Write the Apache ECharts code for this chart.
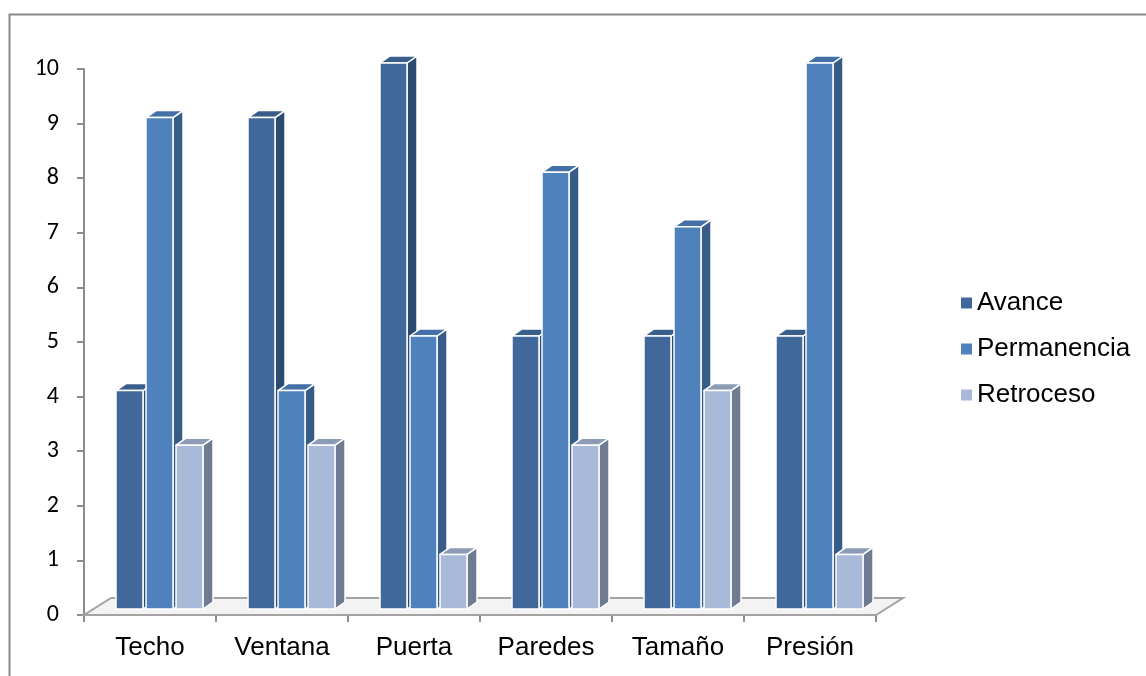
<!DOCTYPE html>
<html>
<head>
<meta charset="utf-8">
<script src="https://cdn.jsdelivr.net/npm/echarts@6/dist/echarts.min.js"></script>
<style>
  html, body { margin: 0; padding: 0; background: #ffffff; }
  #chart { width: 1146px; height: 676px; }
</style>
</head>
<body>
<div id="chart"></div>
<script>
// Categories and values per series
const categories = ['Techo', 'Ventana', 'Puerta', 'Paredes', 'Tamaño', 'Presión'];
const avance = [4, 9, 10, 5, 5, 5];
const permanencia = [9, 4, 5, 8, 7, 10];
const retroceso = [3, 3, 1, 3, 4, 1];
const yTicks = [0, 1, 2, 3, 4, 5, 6, 7, 8, 9, 10];

// Face colours: front, side, top
const palette = [
  { front: '#41689a', side: '#2c4b71', top: '#3a5e8c' },
  { front: '#4f81bd', side: '#375c88', top: '#4370a6' },
  { front: '#a9b9d8', side: '#6e7b91', top: '#8d9cb6' }
];

// Floor depth (perspective offset) and bar depth
const FLOOR_DX = 27, FLOOR_DY = 17;
const BAR_SHIFT_X = 9.5, BAR_SHIFT_Y = 6;
const BAR_DX = 10, BAR_DY = 7;

function barRenderer(seriesPos) {
  return function (params, api) {
    const cat = api.value(0);
    const val = api.value(1);
    const base = api.coord([cat, 0]);
    const top = api.coord([cat, val]);
    const band = api.size([1, 0])[0];
    const w = band * 27 / 132;
    const step = band * 30 / 132;
    const x0 = base[0] + (seriesPos - 1) * step - w / 2 + BAR_SHIFT_X;
    const yb = base[1] - BAR_SHIFT_Y;
    const yt = top[1] - BAR_SHIFT_Y;
    const c = palette[seriesPos];
    const stroke = { stroke: '#ffffff', lineWidth: 1.5, lineJoin: 'round' };
    return {
      type: 'group',
      children: [
        {
          type: 'polygon',
          shape: { points: [[x0 + w, yt], [x0 + w + BAR_DX, yt - BAR_DY], [x0 + w + BAR_DX, yb - BAR_DY], [x0 + w, yb]] },
          style: Object.assign({ fill: c.side }, stroke)
        },
        {
          type: 'polygon',
          shape: { points: [[x0, yt], [x0 + BAR_DX, yt - BAR_DY], [x0 + w + BAR_DX, yt - BAR_DY], [x0 + w, yt]] },
          style: Object.assign({ fill: c.top }, stroke)
        },
        {
          type: 'rect',
          shape: { x: x0, y: yt, width: w, height: yb - yt },
          style: Object.assign({ fill: c.front }, stroke)
        }
      ]
    };
  };
}

function floorRenderer(params, api) {
  const cs = params.coordSys;
  const yf = cs.y + cs.height;
  const xl = cs.x, xr = cs.x + cs.width;
  return {
    type: 'polygon',
    shape: { points: [[xl, yf], [xr, yf], [xr + FLOOR_DX, yf - FLOOR_DY], [xl + FLOOR_DX, yf - FLOOR_DY]] },
    style: { fill: '#f3f3f3', stroke: '#a3a3a3', lineWidth: 2 }
  };
}

function toPairs(arr) { return arr.map((v, i) => [i, v]); }

const chart = echarts.init(document.getElementById('chart'), null, { renderer: 'canvas' });

chart.setOption({
  backgroundColor: '#ffffff',
  animation: false,
  graphic: [{
    type: 'rect',
    left: 7, top: 12,
    shape: { width: 1150, height: 680 },
    style: { fill: 'none', stroke: '#888888', lineWidth: 2 },
    silent: true, z: 0
  }],
  grid: { left: 84, right: 270, top: 69, bottom: 61, containLabel: false },
  legend: {
    orient: 'vertical',
    left: 956, top: 285,
    itemWidth: 11, itemHeight: 11,
    itemGap: 20,
    icon: 'rect',
    textStyle: { fontFamily: 'Liberation Sans, Arial, sans-serif', fontSize: 26, color: '#000000', padding: [0, 0, 0, 0] },
    data: ['Avance', 'Permanencia', 'Retroceso']
  },
  xAxis: {
    type: 'category',
    data: categories,
    boundaryGap: true,
    axisLine: { lineStyle: { color: '#8c8c8c', width: 2 } },
    axisTick: { show: true, length: 7, lineStyle: { color: '#8c8c8c', width: 2 } },
    axisLabel: { fontFamily: 'Liberation Sans, Arial, sans-serif', fontSize: 26, color: '#000000', margin: 20 },
    splitLine: { show: false }
  },
  yAxis: {
    type: 'value',
    min: yTicks[0], max: yTicks[yTicks.length - 1], interval: 1,
    axisLine: { show: true, lineStyle: { color: '#8c8c8c', width: 2 } },
    axisTick: { show: true, length: 7, lineStyle: { color: '#8c8c8c', width: 2 } },
    axisLabel: { fontFamily: 'Carlito, Lato, sans-serif', fontSize: 24, color: '#000000', margin: 25 },
    splitLine: { show: false }
  },
  series: [
    {
      name: 'floor', type: 'custom', renderItem: floorRenderer,
      data: [[0, 0]], silent: true, z: 1
    },
    {
      name: 'Avance', type: 'custom', renderItem: barRenderer(0),
      itemStyle: { color: palette[0].front }, data: toPairs(avance), z: 2
    },
    {
      name: 'Permanencia', type: 'custom', renderItem: barRenderer(1),
      itemStyle: { color: palette[1].front }, data: toPairs(permanencia), z: 2
    },
    {
      name: 'Retroceso', type: 'custom', renderItem: barRenderer(2),
      itemStyle: { color: palette[2].front }, data: toPairs(retroceso), z: 2
    }
  ]
});
</script>
</body>
</html>
